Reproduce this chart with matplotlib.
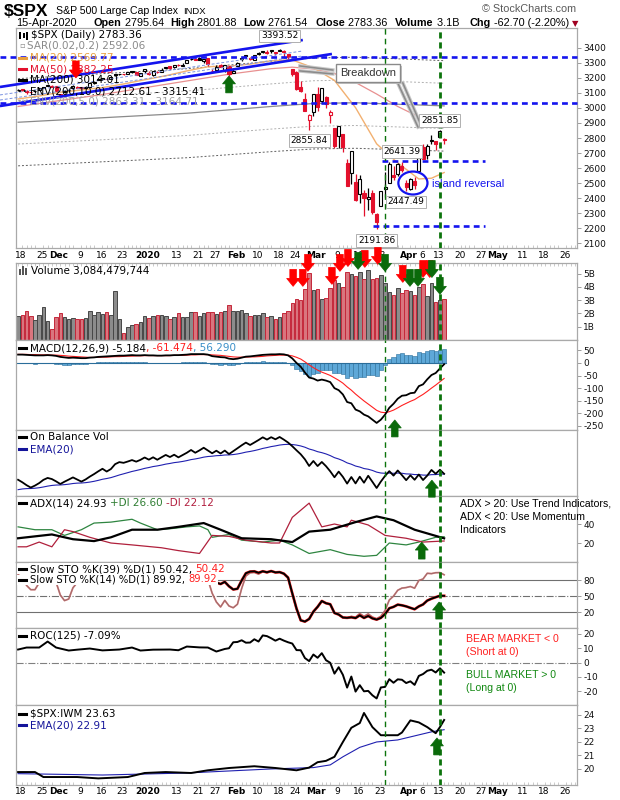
import numpy as np
import pandas as pd
import matplotlib
matplotlib.use("Agg")
import matplotlib.pyplot as plt
from matplotlib.patches import Rectangle, Polygon, Ellipse
from matplotlib.lines import Line2D
from matplotlib.transforms import IdentityTransform, ScaledTranslation, blended_transform_factory

plt.rcParams['font.family'] = ['DejaVu Sans']
plt.rcParams['axes.unicode_minus'] = False

# ======================= DATA =======================
# trading-day index: 0 = 18-Nov-2019 ... 101 = 15-Apr-2020
tick_days = [0, 5, 9, 14, 19, 24, 30, 37, 42, 46, 51, 56, 61, 65, 70, 75, 80, 85, 92, 95, 99,
             104, 109, 113, 119, 124, 129]
tick_labels = ['18', '25', 'Dec', '9', '16', '23', '2020', '13', '21', '27', 'Feb', '10', '18', '24',
               'Mar', '9', '16', '23', 'Apr', '6', '13', '20', '27', 'May', '11', '18', '26']
bold_labels = {'Dec', '2020', 'Feb', 'Mar', 'Apr', 'May'}

opens = [3117.91, 3127.45, 3114.66, 3108.49, 3111.41, 3117.44, 3134.85, 3145.49, 3147.18, 3143.85,
         3087.41, 3103.50, 3119.21, 3134.62, 3141.86, 3135.36, 3135.75, 3141.23, 3166.65, 3183.63,
         3195.40, 3195.21, 3192.32, 3223.33, 3226.05, 3225.45, 3227.20, 3247.23, 3240.09, 3215.18,
         3244.67, 3226.36, 3217.55, 3241.86, 3238.59, 3266.03, 3280.97, 3271.13, 3285.35, 3282.27,
         3302.97, 3323.66, 3321.03, 3330.02, 3315.77, 3333.10, 3247.16, 3255.35, 3289.46, 3256.45,
         3282.33, 3235.66, 3280.61, 3324.91, 3344.92, 3335.54, 3318.28, 3365.87, 3370.50, 3365.90,
         3378.08, 3369.04, 3380.39, 3380.45, 3360.50, 3257.61, 3238.94, 3139.90, 3062.54, 2916.90,
         2974.28, 3096.46, 3045.75, 3075.70, 2954.20, 2863.89, 2813.48, 2825.60, 2630.86, 2569.99,
         2508.59, 2425.66, 2436.50, 2393.48, 2431.94, 2290.71, 2344.44, 2457.77, 2501.29, 2555.87,
         2558.98, 2614.69, 2498.08, 2458.54, 2514.92, 2578.28, 2738.65, 2685.00, 2776.99, 2782.46,
         2805.10, 2795.64]
highs = [3124.17, 3127.64, 3118.97, 3110.11, 3112.87, 3133.83, 3142.69, 3154.26, 3150.30, 3144.31,
         3094.97, 3119.38, 3119.45, 3150.60, 3148.87, 3142.12, 3143.98, 3176.28, 3182.68, 3197.71,
         3198.22, 3198.48, 3205.48, 3225.65, 3227.78, 3226.43, 3240.08, 3247.93, 3240.92, 3231.72,
         3258.14, 3246.15, 3246.84, 3244.91, 3267.07, 3275.58, 3282.99, 3288.13, 3294.25, 3298.66,
         3317.11, 3329.88, 3329.79, 3337.77, 3326.88, 3333.18, 3258.85, 3285.78, 3293.47, 3285.91,
         3282.33, 3268.44, 3306.92, 3337.58, 3347.96, 3341.42, 3352.26, 3375.63, 3381.47, 3385.09,
         3380.69, 3375.01, 3393.52, 3389.15, 3360.76, 3259.81, 3246.99, 3182.51, 3097.07, 2959.72,
         3090.96, 3136.72, 3130.97, 3083.04, 2985.93, 2863.89, 2882.59, 2825.60, 2660.95, 2711.33,
         2562.98, 2553.93, 2453.57, 2466.97, 2453.01, 2300.73, 2449.71, 2571.42, 2637.01, 2615.91,
         2631.80, 2641.39, 2522.75, 2533.22, 2538.18, 2676.85, 2756.89, 2760.75, 2818.57, 2782.46,
         2851.85, 2801.88]
lows = [3112.06, 3113.47, 3091.41, 3094.55, 3099.26, 3117.44, 3131.00, 3143.41, 3139.34, 3110.78,
        3070.33, 3102.53, 3103.76, 3134.62, 3135.46, 3126.09, 3133.21, 3138.47, 3156.51, 3183.63,
        3191.03, 3191.14, 3192.32, 3216.03, 3222.30, 3220.51, 3227.20, 3234.37, 3216.57, 3212.03,
        3235.53, 3222.34, 3214.64, 3232.43, 3236.67, 3263.67, 3260.86, 3268.43, 3277.19, 3280.69,
        3302.82, 3318.86, 3316.61, 3320.04, 3301.87, 3281.53, 3234.50, 3253.22, 3271.89, 3242.80,
        3214.68, 3235.66, 3280.61, 3313.75, 3334.39, 3322.12, 3317.77, 3352.72, 3369.72, 3360.52,
        3366.15, 3355.61, 3378.83, 3341.02, 3328.45, 3214.65, 3118.77, 3108.99, 2977.39, 2855.84,
        2945.19, 2976.63, 3034.38, 2999.83, 2901.54, 2734.43, 2734.00, 2707.22, 2478.86, 2492.37,
        2380.94, 2367.04, 2280.52, 2319.78, 2295.56, 2191.86, 2344.44, 2407.53, 2500.72, 2520.02,
        2545.28, 2571.15, 2447.49, 2455.79, 2459.96, 2574.57, 2657.67, 2663.30, 2762.36, 2721.17,
        2805.10, 2761.54]
closes = [3122.03, 3120.18, 3108.46, 3103.54, 3110.29, 3133.64, 3140.52, 3153.63, 3140.98, 3113.87,
          3093.20, 3112.76, 3117.43, 3145.91, 3135.96, 3132.52, 3141.63, 3168.57, 3168.80, 3191.45,
          3192.52, 3191.14, 3205.37, 3221.22, 3224.01, 3223.38, 3239.91, 3240.02, 3221.29, 3230.78,
          3257.85, 3234.85, 3246.28, 3237.18, 3253.05, 3274.70, 3265.35, 3288.13, 3283.15, 3289.29,
          3316.81, 3329.62, 3320.79, 3321.75, 3325.54, 3295.47, 3243.63, 3276.24, 3273.40, 3283.66,
          3225.52, 3248.92, 3297.59, 3334.69, 3345.78, 3327.71, 3352.09, 3357.75, 3379.45, 3373.94,
          3380.16, 3370.29, 3386.15, 3373.23, 3337.75, 3225.89, 3128.21, 3116.39, 2978.76, 2954.22,
          3090.23, 3003.37, 3130.12, 3023.94, 2972.37, 2746.56, 2882.23, 2741.38, 2480.64, 2711.02,
          2386.13, 2529.19, 2398.10, 2409.39, 2304.92, 2237.40, 2447.33, 2475.56, 2630.07, 2541.47,
          2626.65, 2584.59, 2470.50, 2526.90, 2488.65, 2663.68, 2659.41, 2749.98, 2789.82, 2761.63,
          2846.06, 2783.36]
volume_b = [1.8, 1.9, 2.2, 1.8, 1.5, 1.9, 2.45, 1.45, 0.85, 1.75,
            2.0, 1.75, 1.6, 1.65, 1.6, 1.6, 1.65, 2.15, 1.9, 2.1,
            1.95, 2.1, 1.9, 3.7, 1.55, 0.55, 1.0, 1.1, 1.2, 1.35,
            1.8, 1.65, 1.8, 1.85, 1.85, 1.8, 1.6, 1.75, 2.0, 1.75,
            1.75, 2.1, 2.1, 1.8, 2.0, 2.1, 2.1, 1.95, 2.1, 2.2,
            2.65, 2.2, 2.2, 2.25, 2.05, 1.8, 1.85, 1.9, 2.05, 1.7,
            1.8, 1.6, 1.75, 2.0, 2.2, 2.8, 3.1, 3.0, 3.85, 5.05,
            3.8, 3.85, 3.1, 3.2, 3.9, 4.5, 4.3, 4.0, 5.1, 5.0,
            4.85, 5.1, 4.6, 5.3, 4.6, 4.7, 4.9, 4.3, 3.6, 3.4,
            3.9, 3.55, 3.8, 3.7, 3.4, 4.0, 4.2, 3.35, 4.3, 2.9, 3.05, 3.08]

ma20_days = [0, 5, 10, 15, 20, 25, 30, 35, 40, 45, 50, 55, 60, 65, 70, 75, 80, 85, 90, 95, 98, 101]
ma20_vals = [3060, 3080, 3105, 3120, 3136, 3160, 3188, 3215, 3247, 3275, 3279, 3292, 3315, 3320,
             3268, 3184, 3002, 2761, 2634, 2527, 2532, 2569.77]
ma50_days = [0, 10, 20, 30, 40, 50, 60, 65, 70, 75, 80, 85, 90, 95, 101]
ma50_vals = [3010, 3050, 3090, 3135, 3180, 3225, 3262, 3272, 3260, 3230, 3170, 3093, 3010, 2941, 2882.25]
ma200_days = [0, 20, 40, 60, 70, 80, 90, 101]
ma200_vals = [2905, 2935, 2965, 3010, 3030, 3035, 3025, 3014.01]

macd_line = [33, 33, 32, 31, 30, 30, 30, 31, 30, 28,
             24, 22, 20, 21, 20, 19, 19, 21, 22, 24,
             25, 26, 27, 28, 29, 29, 30, 31, 30, 30,
             31, 30, 30, 29, 29, 30, 30, 31, 31, 32,
             33, 35, 35, 35, 35, 33, 27, 25, 23, 22, 17,
             15, 17, 21, 25, 26, 28, 30, 32, 33, 34,
             34, 35, 34, 30, 18, 0, -15, -38, -58,
             -62, -70, -66, -70, -76, -100, -108, -125, -155, -160,
             -185, -192, -205, -212, -225, -238, -225, -205, -178, -162,
             -142, -130, -128, -120, -118, -92, -85, -65, -48, -40, -22, -5.184]
macd_signal = [34, 34, 34, 33, 33, 32, 32, 32, 31, 31,
               30, 29, 27, 26, 25, 24, 23, 22, 22, 22,
               23, 23, 24, 25, 25, 26, 27, 27, 28, 28,
               29, 29, 29, 29, 29, 29, 29, 30, 30, 30,
               31, 32, 32, 33, 33, 33, 32, 31, 30, 28, 26,
               24, 23, 23, 23, 24, 24, 25, 26, 28, 29,
               30, 31, 31, 31, 28, 22.4, 15.4, 4.4, -7.6,
               -18.8, -28.4, -36.4, -42.8, -49.6, -59.2, -68.8, -80.2, -95, -108,
               -123.4, -137.1, -150.7, -163, -175.4, -187.9, -195.3, -197.3, -193.4, -187.1,
               -178.1, -168.5, -160.4, -152.3, -145.4, -134.7, -124.8, -112.8, -99.9, -87.9,
               -74.7, -61.474]

obv_ema_seed = -7.5   # EMA(20) of OBV on day 0, relative to OBV on day 0 (billions)

adx_days = [0, 4, 8, 13, 18, 22, 27, 33, 38, 44, 48, 53, 60, 65, 69, 74, 80, 85, 89, 94, 101]
adx_vals = [25, 27, 29, 24, 22, 26, 34, 34, 37, 41, 34, 25, 24, 21, 32, 34, 42, 48, 44, 34, 24.93]
pdi_days = [0, 4, 8, 11, 15, 18, 22, 27, 29, 33, 36, 40, 43, 45, 46, 50, 53, 58, 62, 65, 69, 74,
            78, 82, 85, 88, 92, 95, 99, 101]
pdi_vals = [37, 34, 34, 28, 34, 41, 42, 45, 41, 34, 35, 37, 38, 34, 26, 29, 23, 21, 23, 18, 9, 13,
            8, 6, 7, 20, 18, 21, 26, 26.60]
mdi_days = [0, 2, 5, 8, 11, 13, 17, 22, 27, 34, 38, 43, 46, 50, 54, 60, 62, 65, 69, 72, 75, 78,
            79, 83, 87, 92, 96, 101]
mdi_vals = [16, 16, 21, 16, 34, 32, 26, 20, 18, 15, 12, 9, 28, 27, 23, 20, 20, 47, 62, 37, 40, 37,
            44, 39, 28, 25, 21, 22.12]

sto14_early = [90, 85, 70, 62, 62, 75, 90, 97, 93, 76, 52, 41.5, 44.5, 65.5, 75]

roc_days = [0, 2, 5, 7, 9, 12, 14, 17, 20, 24, 27, 29, 32, 36, 38, 40, 43, 45, 47, 49,
            50, 51, 52, 53, 54, 55, 56, 57, 58, 59, 60, 61, 62, 63, 64, 65, 66, 67, 68, 69,
            70, 71, 72, 73, 74, 75, 76, 77, 78, 79, 80, 81, 82, 83, 84, 85, 86, 87, 88, 89,
            90, 91, 92, 93, 94, 95, 96, 97, 98, 99, 100, 101]
roc_vals = [9.1, 10.5, 10.5, 14.7, 10.5, 8.4, 9.0, 9.8, 8.5, 9.1, 10.5, 8.4, 9.0, 9.1, 8.6, 11.2,
            10.6, 10.5, 7.7, 9.5,
            10.0, 14.2, 14.4, 15.6, 13.9, 14.0, 16.3, 14.7, 19.0, 18.5, 17.0, 15.3, 16.7, 15.35,
            14.2, 13.3, 8.7, 8.6, 3.1, 1.0,
            5.6, 3.3, 6.55, 1.6, -0.2, -7.8, -3.3, -8.65, -17.6, -9.85, -20.4, -15.9, -20.2, -19.9,
            -23.0, -25.2, -17.5, -17.1, -11.7, -14.2,
            -11.8, -12.1, -14.4, -13.2, -15.7, -9.4, -8.1, -5.8, -5.05, -7.0, -4.05, -7.09]

ratio_days = [0, 4, 6, 14, 19, 26, 30, 35, 41, 45, 50, 56, 61, 66, 69, 71, 73, 75, 77, 79, 81,
              82, 84, 86, 90, 91, 93, 95, 97, 99, 100, 101]
ratio_vals = [19.77, 19.77, 19.4, 19.4, 19.3, 19.4, 19.7, 19.77, 19.7, 19.9, 20.07, 20.2, 20.07,
              19.9, 20.1, 20.5, 20.6, 20.9, 22.0, 23.05, 23.4, 24.15, 23.1, 22.5, 22.5, 22.7, 23.6,
              23.45, 23.1, 22.65, 23.1, 23.63]
ratio_ema_days = [0, 20, 40, 60, 70, 74, 77, 81, 85, 90, 94, 98, 101]
ratio_ema_vals = [19.65, 19.55, 19.7, 20.0, 20.1, 20.3, 20.9, 21.6, 22.0, 22.15, 22.45, 22.75, 22.91]

# annotations (day index, price)
price_labels = [(62, 3393.52, 13), (69, 2855.84, -11), (100, 2851.85, 10),
                (91, 2641.39, 10), (92, 2447.49, -11), (85, 2191.86, -11)]
trend_lines = [((-4.3, 3140), (67.5, 3453)), ((-4.3, 3013), (74.4, 3360))]
channel_lines = [((-4.3, 3087), (67.5, 3380)), ((-4.3, 3053), (67.5, 3347))]
level_lines = [(3340, -4.3, 132.5), (3033, -4.3, 132.5), (2645, 86.3, 110.7), (2213, 84.1, 110.7)]
signal_days = [87, 100]
arrows = [
    ('price', 50, 3214, 'up', 'g', 'data'), ('price', 13.7, 3200, 'down', 'r', 'data'),
    ('vol', 65.2, 4.04, 'down', 'r', 'data'), ('vol', 67.5, 4.04, 'down', 'r', 'data'),
    ('vol', 68.7, 5.17, 'down', 'r', 'data'), ('vol', 74.4, 4.19, 'down', 'r', 'data'),
    ('vol', 76.3, 5.17, 'down', 'r', 'data'), ('vol', 78.2, 5.54, 'down', 'r', 'data'),
    ('vol', 82.2, 5.47, 'down', 'r', 'data'), ('vol', 85.3, 5.69, 'down', 'r', 'data'),
    ('vol', 91.2, 4.34, 'down', 'r', 'data'), ('vol', 96.0, 4.71, 'down', 'r', 'data'),
    ('vol', 97.6, 4.71, 'down', 'r', 'data'),
    ('vol', 80.6, 5.32, 'down', 'g', 'data'), ('vol', 87.0, 5.17, 'down', 'g', 'data'),
    ('vol', 92.9, 4.04, 'down', 'g', 'data'), ('vol', 94.8, 4.04, 'down', 'g', 'data'),
    ('vol', 98.1, 4.71, 'down', 'g', 'data'), ('vol', 100.0, 3.44, 'down', 'g', 'data'),
    ('macd', 89.3, -226, 'up', 'g', 'data'), ('obv', 98.1, 0.24, 'up', 'g', 'axes'),
    ('adx', 95.7, 21, 'up', 'g', 'data'), ('sto', 99.8, 38.8, 'up', 'g', 'data'),
    ('ratio', 99.3, 22.3, 'up', 'g', 'data'),
]

# ======================= FIGURE =======================
W, H = 620, 800
fig = plt.figure(figsize=(W / 100, H / 100), dpi=100)
fig.patch.set_facecolor('white')
renderer = fig.canvas.get_renderer()
L, R = 16, 577
XMIN, XMAX = -0.5, 132.5
N = len(closes)
days = np.arange(N)
SPC = '#a9a9a9'
RED = '#e3102c'
GREEN_ARW = '#0a6a0a'
BLUE = '#1414ee'
NAVY = '#14149a'


def fx(p):
    return p / W


def fy(p):
    return 1 - p / H


def panel(top, bottom):
    ax = fig.add_axes([fx(L), fy(bottom), (R - L) / W, (bottom - top) / H])
    ax.set_xlim(XMIN, XMAX)
    ax.set_xticks([])
    ax.yaxis.tick_right()
    ax.tick_params(axis='y', labelsize=6.5, length=3, width=0.6, color='#8c8c8c', pad=1.5,
                   labelcolor='#111111')
    for s in ax.spines.values():
        s.set_color(SPC)
        s.set_linewidth(0.9)
    return ax


def date_axis(ax):
    ax.set_xticks(tick_days)
    ax.set_xticklabels(tick_labels)
    ax.set_xticks(np.arange(0, 133), minor=True)
    ax.tick_params(axis='x', which='major', length=0, labelsize=6.5, pad=1.8)
    ax.tick_params(axis='x', which='minor', length=2, width=0.5, color='#b5b5b5', direction='in')
    off = ScaledTranslation(3 / 100, 0, fig.dpi_scale_trans)
    for lab in ax.get_xticklabels():
        lab.set_transform(lab.get_transform() + off)
        if lab.get_text() in bold_labels:
            lab.set_fontweight('bold')


def rich(xpx, ypx, parts, size=7.5, icon=None, icon_ls='-', bg=False, family='DejaVu Sans'):
    x = xpx
    if icon is not None:
        if bg:
            fig.add_artist(Rectangle((fx(x - 2), fy(ypx + 5)), 13 / W, 10 / H, transform=fig.transFigure,
                                     facecolor='white', edgecolor='none', zorder=15))
        fig.add_artist(Line2D([fx(x), fx(x + 7)], [fy(ypx), fy(ypx)], transform=fig.transFigure,
                              color=icon, lw=2.2 if icon_ls == '-' else 1.3, linestyle=icon_ls, zorder=16))
        x += 11
    for s, c, w in parts:
        t = fig.text(fx(x), fy(ypx), s, fontsize=size, color=c, fontweight=w, ha='left', va='center',
                     family=family, zorder=16)
        if bg:
            t.set_bbox(dict(facecolor='white', edgecolor='none', pad=0.6))
        bb = t.get_window_extent(renderer=renderer)
        x += bb.width
    return x


# ---------------- panels ----------------
ax_p = panel(28, 248)
ax_v = panel(263, 340)
ax_m = panel(340, 430)
ax_o = panel(430, 496)
ax_a = panel(496, 562)
ax_s = panel(562, 628)
ax_r = panel(628, 705)
ax_i = panel(705, 785)
axes_map = {'price': ax_p, 'vol': ax_v, 'macd': ax_m, 'obv': ax_o, 'adx': ax_a, 'sto': ax_s,
            'roc': ax_r, 'ratio': ax_i}

# ---------------- price ----------------
ax_p.set_ylim(2067, 3533)
ax_p.set_yticks(range(2100, 3401, 100))
date_axis(ax_p)
up_day = [True] + [closes[i] >= closes[i - 1] for i in range(1, N)]

ma200 = np.array(ma200_vals)
ax_p.plot(ma200_days, ma200 * 1.10, color='#606060', lw=0.7, ls=(0, (2, 2)), zorder=2)
ax_p.plot(ma200_days, ma200 * 0.90, color='#606060', lw=0.7, ls=(0, (2, 2)), zorder=2)
ax_p.plot(ma200_days, ma200 * 1.05, color='#b0b0b0', lw=0.7, ls=(0, (2, 2)), zorder=2)
ax_p.plot(ma200_days, ma200 * 0.95, color='#b0b0b0', lw=0.7, ls=(0, (2, 2)), zorder=2)
ax_p.plot(ma200_days, ma200, color='#8a8a8a', lw=0.9, zorder=2)
ax_p.plot(ma50_days, ma50_vals, color='#e89090', lw=0.9, zorder=3)
ax_p.plot(ma20_days, ma20_vals, color='#f2b070', lw=1.0, zorder=3)

for i in range(N):
    col = 'black' if up_day[i] else RED
    ax_p.vlines(i, lows[i], highs[i], color=col, lw=0.9, zorder=4)
    o, c = opens[i], closes[i]
    bot = min(o, c)
    h = max(abs(c - o), 5)
    face = 'white' if c > o else col
    ax_p.add_patch(Rectangle((i - 0.36, bot), 0.72, h, facecolor=face, edgecolor=col, lw=0.8, zorder=5))

for (a, b) in trend_lines:
    ax_p.plot([a[0], b[0]], [a[1], b[1]], color=BLUE, lw=1.9, clip_on=False, zorder=6,
              solid_capstyle='butt')
for (a, b) in channel_lines:
    ax_p.plot([a[0], b[0]], [a[1], b[1]], color='#7890e0', lw=0.7, ls=(0, (3, 2)), clip_on=False, zorder=6)
for (lvl, x0, x1) in level_lines:
    ax_p.plot([x0, x1], [lvl, lvl], color=BLUE, lw=1.9, ls=(0, (2.2, 1.6)), clip_on=False, zorder=6)

for (d, p, off) in price_labels:
    ax_p.annotate(f'{p:.2f}', xy=(d, p), xytext=(0, off), textcoords='offset pixels', ha='center',
                  va='center', fontsize=6.5, color='black', zorder=9,
                  bbox=dict(boxstyle='square,pad=0.2', facecolor='white', edgecolor='#b0b0b0', lw=0.7))

# Breakdown callout
for (a, b) in [((74.6, 3253), (66.8, 3280)), ((74.6, 3227), (66.8, 3247)),
               ((90.0, 3167), (94.8, 2873)), ((91.2, 3167), (95.7, 2873))]:
    ax_p.plot([a[0], b[0]], [a[1], b[1]], color='#c8c8c8', lw=2.6, zorder=7)
    ax_p.plot([a[0], b[0]], [a[1], b[1]], color='#8a8a8a', lw=1.1, zorder=7)
bd = ax_p.text(82.9, 3233, 'Breakdown', ha='center', va='center', fontsize=8, color='#333333',
               family='Liberation Sans', zorder=8,
               bbox=dict(boxstyle='square,pad=0.35', facecolor='white', edgecolor='#8a8a8a', lw=1))
bb = bd.get_window_extent(renderer=renderer)
shadow = Rectangle((bb.x0 - 4 + 2, bb.y0 - 4 - 2), bb.width + 8, bb.height + 8, transform=IdentityTransform(),
                   facecolor='#c4c4c4', edgecolor='none', zorder=7.5, clip_on=False)
ax_p.add_artist(shadow)

# island reversal
ax_p.add_patch(Ellipse((93.6, 2500), width=6.9, height=153, facecolor='none', edgecolor=BLUE,
                       lw=1.6, zorder=8))
ax_p.text(98.1, 2493, 'island reversal', ha='left', va='center', fontsize=8, color=BLUE,
          family='Liberation Sans', zorder=8)

# ---------------- volume ----------------
ax_v.set_ylim(0, 5.8)
ax_v.set_yticks([1, 2, 3, 4, 5])
ax_v.set_yticklabels(['1B', '2B', '3B', '4B', '5B'])
vface = ['#8c8c8c' if u else '#d9757e' for u in up_day]
vedge = ['#474747' if u else '#c4283a' for u in up_day]
ax_v.bar(days, volume_b, width=0.84, color=vface, edgecolor=vedge, lw=0.7, zorder=2)
ax_v.set_xticks(np.arange(0, 133), minor=True)
ax_v.tick_params(axis='x', which='minor', length=2, width=0.5, color='#b5b5b5', direction='in',
                 top=True, bottom=False)

# ---------------- MACD ----------------
ax_m.set_ylim(-266, 91)
ax_m.set_yticks([50, 0, -50, -100, -150, -200, -250])
hist = np.array(macd_line) - np.array(macd_signal)
ax_m.bar(days, hist, width=1.0, color='#5ea8d8', edgecolor='#2a6d9a', lw=0.4, zorder=2)
ax_m.plot([-0.5, N - 0.5], [0, 0], color='#2a6d9a', lw=0.8, zorder=2)
ax_m.plot(days, macd_signal, color='#ff2020', lw=0.8, zorder=3)
ax_m.plot(days, macd_line, color='black', lw=1.3, zorder=4)

# ---------------- OBV (from closes and volumes) ----------------
obv = np.zeros(N)
for i in range(1, N):
    if closes[i] > closes[i - 1]:
        obv[i] = obv[i - 1] + volume_b[i]
    elif closes[i] < closes[i - 1]:
        obv[i] = obv[i - 1] - volume_b[i]
    else:
        obv[i] = obv[i - 1]
alpha = 2.0 / 21.0
obv_ema = np.zeros(N)
obv_ema[0] = obv[0] + obv_ema_seed
for i in range(1, N):
    obv_ema[i] = obv_ema[i - 1] + alpha * (obv[i] - obv_ema[i - 1])
rng = (obv.max() - obv.min()) / (0.894 - 0.121)
lo = obv.min() - 0.121 * rng
ax_o.set_ylim(lo, lo + rng)
ax_o.set_yticks([])
ax_o.plot(days, obv_ema, color='#2020b0', lw=0.8, zorder=3)
ax_o.plot(days, obv, color='black', lw=1.3, zorder=4)

# ---------------- ADX ----------------
ax_a.set_ylim(0, 69.5)
ax_a.set_yticks([20, 40])
ax_a.plot(pdi_days, pdi_vals, color='#2e8540', lw=0.9, zorder=3)
ax_a.plot(mdi_days, mdi_vals, color='#b0203c', lw=0.9, zorder=3)
ax_a.plot(adx_days, adx_vals, color='black', lw=1.6, zorder=4)

# ---------------- Slow stochastics (from highs/lows/closes) ----------------
def slow_k(n):
    fast = np.full(N, np.nan)
    for i in range(n - 1, N):
        hh = max(highs[i - n + 1:i + 1])
        ll = min(lows[i - n + 1:i + 1])
        fast[i] = (closes[i] - ll) / (hh - ll) * 100
    out = np.full(N, np.nan)
    for i in range(n + 1, N):
        out[i] = np.mean(fast[i - 2:i + 1])
    return out


k39 = slow_k(39)
k14 = slow_k(14)
k14[:len(sto14_early)] = sto14_early
ax_s.set_ylim(-9.9, 113.9)
ax_s.set_yticks([20, 50, 80])
ax_s.axhline(80, color='#707070', lw=0.8, zorder=1)
ax_s.axhline(20, color='#707070', lw=0.8, zorder=1)
ax_s.axhline(50, color='#707070', lw=0.8, ls='-.', zorder=1)
ax_s.plot(days, k14, color='#e05050', lw=1.3, alpha=0.5, zorder=2)
ax_s.plot(days, k14, color='#a86a6a', lw=1.0, zorder=3)
ax_s.plot(days, k39, color='#ff3030', lw=2.0, zorder=4)
ax_s.plot(days, k39, color='black', lw=1.4, zorder=5)

# ---------------- ROC ----------------
ax_r.set_ylim(-29.8, 24.2)
ax_r.set_yticks([20, 10, 0, -10, -20])
ax_r.axhline(0, color='#808080', lw=0.8, ls='-.', zorder=1)
ax_r.plot(roc_days, roc_vals, color='black', lw=1.4, zorder=4)

# ---------------- SPX:IWM ----------------
ax_i.set_ylim(18.81, 24.74)
ax_i.set_yticks([20, 21, 22, 23, 24])
ax_i.plot(ratio_ema_days, ratio_ema_vals, color='#2020b0', lw=0.8, zorder=3)
ax_i.plot(ratio_days, ratio_vals, color='black', lw=1.4, zorder=4)
date_axis(ax_i)

# ---------------- vertical signal lines ----------------
for ax in axes_map.values():
    ax.axvline(signal_days[0], color='#0b730b', lw=1.0, ls=(0, (4, 3)), zorder=8)
    ax.axvline(signal_days[1], color='#0b730b', lw=2.0, ls=(0, (2.2, 1.4)), zorder=8)

# ---------------- arrows ----------------
def draw_arrow(ax, day, yv, direction, color, coord):
    if coord == 'data':
        tx, ty = ax.transData.transform((day, yv))
    else:
        tx, ty = blended_transform_factory(ax.transData, ax.transAxes).transform((day, yv))
    hw, hh, sw, ln = 6.5, 8.0, 3.3, 17.0
    s = 1 if direction == 'up' else -1
    verts = [(tx, ty), (tx + hw, ty - s * hh), (tx + sw, ty - s * hh), (tx + sw, ty - s * ln),
             (tx - sw, ty - s * ln), (tx - sw, ty - s * hh), (tx - hw, ty - s * hh)]
    fig.add_artist(Polygon(verts, closed=True, transform=IdentityTransform(), facecolor=color,
                           edgecolor=color, lw=0.5, zorder=20))


for (pk, d, yv, dr, ck, coord) in arrows:
    draw_arrow(axes_map[pk], d, yv, dr, GREEN_ARW if ck == 'g' else '#ff0000', coord)

# ---------------- header ----------------
fig.text(fx(4), fy(12), '$SPX', fontsize=12.5, fontweight='bold', family='Liberation Sans', va='center')
fig.text(fx(56), fy(11), 'S&P 500 Large Cap Index', fontsize=7.6, family='Liberation Sans', va='center')
fig.text(fx(183), fy(11.5), 'INDX', fontsize=6.8, family='Liberation Sans', va='center')
fig.text(fx(576), fy(9), '© StockCharts.com', fontsize=7.8, family='Liberation Sans', va='center',
         ha='right', color='#5a5a5a')
fig.text(fx(16), fy(23), '15-Apr-2020', fontsize=7.8, family='Liberation Sans', va='center')
xend = 0
for xx, lab, val in [(94, 'Open', '2795.64'), (170, 'High', '2801.88'), (243, 'Low', '2761.54'),
                     (315, 'Close', '2783.36'), (395, 'Volume', '3.1B'), (470, 'Chg', '-62.70 (-2.20%)')]:
    xend = rich(xx, 23, [(lab, 'black', 'bold'), (' ' + val, 'black', 'normal')], size=7.8,
                family='Liberation Sans')
fig.text(fx(xend + 3), fy(23.5), '▼', fontsize=6, color='#a00020', va='center')

# ---------------- legends ----------------
# price
fig.add_artist(Rectangle((fx(19), fy(39)), 2 / W, 7 / H, transform=fig.transFigure, facecolor='black'))
fig.add_artist(Rectangle((fx(23), fy(38)), 2 / W, 5 / H, transform=fig.transFigure, facecolor='black'))
fig.add_artist(Rectangle((fx(26), fy(40)), 2 / W, 8 / H, transform=fig.transFigure, facecolor='black'))
rich(31, 35, [('$SPX (Daily) 2783.36', 'black', 'normal')])
fig.text(fx(19), fy(46), '▫', fontsize=6, color='#8a8a8a', va='center')
rich(27, 46, [('SAR(0.02,0.2) 2592.06', '#8a8a8a', 'normal')])
rich(19, 58, [('MA(20) 2569.77', '#e8a040', 'normal')], icon='#e8a040')
rich(19, 69, [('MA(50) 2882.25', RED, 'normal')], icon=RED)
rich(19, 80, [('MA(200) 3014.01', 'black', 'normal')], icon='black')
rich(19, 91, [('ENV(200,10.0) 2712.61 - 3315.41', 'black', 'normal')], icon='black', icon_ls=':')
rich(19, 101, [('ENV(200,5.0) 2863.31 - 3164.71', '#a0a0a0', 'normal')], icon='#a0a0a0', icon_ls=':')

# volume
for xx, hh in [(19, 6), (22, 9), (25, 7)]:
    fig.add_artist(Rectangle((fx(xx), fy(275)), 2 / W, hh / H, transform=fig.transFigure,
                             facecolor='#555555'))
rich(31, 271, [('Volume 3,084,479,744', 'black', 'normal')])

rich(19, 348, [('MACD(12,26,9) -5.184', 'black', 'normal'), (', -61.474', '#ff2020', 'normal'),
               (', 56.290', '#3a8fc8', 'normal')], icon='black')
rich(19, 437, [('On Balance Vol', 'black', 'normal')], icon='black')
rich(19, 449, [('EMA(20)', NAVY, 'normal')], icon=NAVY)
rich(19, 503, [('ADX(14) 24.93 ', 'black', 'normal'), ('+DI 26.60 ', '#2e7d32', 'normal'),
               ('-DI 22.12', '#b22040', 'normal')], icon='black')
rich(19, 569, [('Slow STO %K(39) %D(1) 50.42, ', 'black', 'normal'), ('50.42', '#ff2020', 'normal')],
     icon='black', bg=True)
rich(19, 579.5, [('Slow STO %K(14) %D(1) 89.92, ', 'black', 'normal'), ('89.92', '#ff2020', 'normal')],
     icon='black', bg=True, size=7.2)
rich(19, 636, [('ROC(125) -7.09%', 'black', 'normal')], icon='black')
rich(19, 714, [('$SPX:IWM 23.63', 'black', 'normal')], icon='black')
rich(19, 725, [('EMA(20) 22.91', NAVY, 'normal')], icon=NAVY)

# right-side notes
for yy, s in [(503, 'ADX > 20: Use Trend Indicators,'), (517, 'ADX < 20: Use Momentum'), (530, 'Indicators')]:
    fig.text(fx(460), fy(yy), s, fontsize=7.6, family='Liberation Sans', va='center', color='black')
for yy, s, c in [(639, 'BEAR MARKET < 0', '#ff2020'), (652, '(Short at 0)', '#ff2020'),
                 (675, 'BULL MARKET > 0', '#118811'), (688, '(Long at 0)', '#118811')]:
    fig.text(fx(466), fy(yy), s, fontsize=7.6, family='Liberation Sans', va='center', color=c)

fig.savefig('out.png', dpi=100, facecolor='white')
